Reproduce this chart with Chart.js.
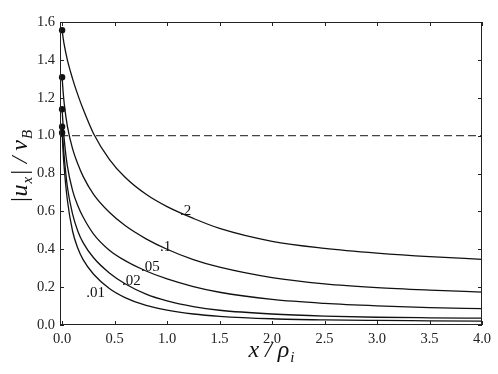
<!DOCTYPE html>
<html>
<head>
<meta charset="utf-8">
<script src="https://cdn.jsdelivr.net/npm/chart.js@4.4.0/dist/chart.umd.min.js"></script>
<style>
  html, body { margin: 0; padding: 0; background: #fff; }
  #wrap { width: 498px; height: 374px; }
</style>
</head>
<body>
<div id="wrap"><canvas id="chart" width="498" height="374"></canvas></div>
<script>
// x positions (x / rho_i) shared by every curve
const xs = [0, 0.01, 0.02, 0.05, 0.1, 0.15, 0.2, 0.3, 0.45, 0.6, 0.8, 1.0, 1.25, 1.5, 2.0, 2.5, 3.0, 3.5, 4.0];

// |u_x| / v_B
const curve20 = [1.557, 1.515, 1.48, 1.40, 1.30, 1.215, 1.14, 1.01, 0.875, 0.78, 0.69, 0.625, 0.563, 0.51, 0.442, 0.405, 0.38, 0.361, 0.347];
const curve10 = [1.308, 1.23, 1.17, 1.05, 0.93, 0.85, 0.785, 0.69, 0.595, 0.525, 0.455, 0.40, 0.345, 0.305, 0.25, 0.217, 0.197, 0.184, 0.174];
const curve05 = [1.139, 1.05, 0.98, 0.84, 0.71, 0.63, 0.57, 0.48, 0.395, 0.34, 0.285, 0.243, 0.203, 0.173, 0.135, 0.114, 0.101, 0.092, 0.086];
const curve02 = [1.047, 0.96, 0.89, 0.73, 0.585, 0.495, 0.435, 0.355, 0.275, 0.218, 0.163, 0.127, 0.097, 0.078, 0.058, 0.047, 0.041, 0.038, 0.036];
const curve01 = [1.015, 0.91, 0.83, 0.66, 0.495, 0.405, 0.345, 0.268, 0.193, 0.145, 0.103, 0.078, 0.058, 0.046, 0.033, 0.027, 0.024, 0.022, 0.020];

const curveNames = ['.2', '.1', '.05', '.02', '.01'];
const curveValues = [curve20, curve10, curve05, curve02, curve01];
// where each curve's name sits (data coords, left/baseline of the text)
const labelX = [1.124, 0.933, 0.752, 0.571, 0.229];
const labelY = [0.581, 0.391, 0.285, 0.211, 0.148];

const xTicks = [0, 0.5, 1.0, 1.5, 2.0, 2.5, 3.0, 3.5, 4.0];
const yTicks = [0, 0.2, 0.4, 0.6, 0.8, 1.0, 1.2, 1.4, 1.6];
const refLevel = 1.0;

const serif = '"Liberation Serif", "DejaVu Serif", serif';
const ink = '#111';

const datasets = curveValues.map((vals, i) => ({
    label: curveNames[i],
    data: xs.map((x, k) => ({x: x, y: vals[k]})),
    borderColor: ink,
    borderWidth: 1.3,
    fill: false,
    cubicInterpolationMode: 'monotone',
    pointRadius: (ctx) => ctx.dataIndex === 0 ? 3.2 : 0,
    pointBackgroundColor: ink,
    pointBorderWidth: 0,
    clip: false,
}));

// dashed reference line at 1.0
datasets.push({
    label: 'ref',
    data: [{x: -0.02, y: refLevel}, {x: 4.0, y: refLevel}],
    borderColor: '#444',
    borderWidth: 1.2,
    borderDash: [8, 4],
    pointRadius: 0,
    fill: false,
});

// frame, inward ticks, curve names, axis titles
const decorations = {
    id: 'decorations',
    afterDraw(chart) {
        const {ctx, chartArea: a, scales: {x, y}} = chart;
        ctx.save();
        ctx.strokeStyle = '#222';
        ctx.lineWidth = 1;
        ctx.strokeRect(a.left + 0.5, a.top + 0.5, a.right - a.left - 1, a.bottom - a.top - 1);

        const len = 4;
        ctx.beginPath();
        xTicks.forEach(v => {
            const px = Math.round(x.getPixelForValue(v)) + 0.5;
            ctx.moveTo(px, a.bottom); ctx.lineTo(px, a.bottom - len);
            ctx.moveTo(px, a.top); ctx.lineTo(px, a.top + len);
        });
        yTicks.forEach(v => {
            const py = Math.round(y.getPixelForValue(v)) + 0.5;
            ctx.moveTo(a.left, py); ctx.lineTo(a.left + len, py);
            ctx.moveTo(a.right, py); ctx.lineTo(a.right - len, py);
        });
        ctx.stroke();

        // curve names
        ctx.fillStyle = ink;
        ctx.font = '15px ' + serif;
        ctx.textAlign = 'left';
        ctx.textBaseline = 'alphabetic';
        curveNames.forEach((name, i) => {
            ctx.fillText(name, x.getPixelForValue(labelX[i]), y.getPixelForValue(labelY[i]));
        });

        // x title: x / rho_i
        const cx = (a.left + a.right) / 2;
        const big = 'italic 24px ' + serif;
        const small = 'italic 15px ' + serif;
        ctx.font = big;
        const w1 = ctx.measureText('x / ρ').width;
        ctx.font = small;
        const w2 = ctx.measureText('i').width;
        const sx = cx - (w1 + w2) / 2;
        const base = 357;
        ctx.font = big;
        ctx.fillText('x / ρ', sx, base);
        ctx.font = small;
        ctx.fillText('i', sx + w1 + 1, base + 5);

        // y title: |u_x| / v_B
        ctx.translate(27, 166);
        ctx.rotate(-Math.PI / 2);
        const parts = [['|u', big, 0], ['x', small, 5], ['| / v', big, 0], ['B', small, 5]];
        let total = 0;
        parts.forEach(p => { ctx.font = p[1]; total += ctx.measureText(p[0]).width + 1; });
        let px = -total / 2;
        parts.forEach(p => {
            ctx.font = p[1];
            ctx.fillText(p[0], px, p[2]);
            px += ctx.measureText(p[0]).width + 1;
        });
        ctx.restore();
    }
};

new Chart(document.getElementById('chart'), {
    type: 'line',
    data: {datasets: datasets},
    options: {
        responsive: false,
        devicePixelRatio: 1,
        animation: false,
        layout: {
            padding: {left: 0, top: 22, right: 16, bottom: 0},
        },
        scales: {
            x: {
                type: 'linear',
                min: -0.02,
                max: 4.0,
                afterFit: (scale) => { scale.height = 49; },
                afterBuildTicks: (scale) => { scale.ticks = xTicks.map(v => ({value: v})); },
                grid: {display: false, drawTicks: false},
                border: {display: false},
                ticks: {
                    padding: 5,
                    maxRotation: 0,
                    color: '#222',
                    font: {family: serif, size: 14.5},
                    callback: (value) => value.toFixed(1),
                },
            },
            y: {
                type: 'linear',
                min: 0,
                max: 1.6,
                afterFit: (scale) => { scale.width = 60; },
                afterBuildTicks: (scale) => { scale.ticks = yTicks.map(v => ({value: v})); },
                grid: {display: false, drawTicks: false},
                border: {display: false},
                ticks: {
                    padding: 5,
                    color: '#222',
                    font: {family: serif, size: 14.5},
                    callback: (value) => value.toFixed(1),
                },
            },
        },
        plugins: {
            legend: {display: false},
            tooltip: {enabled: false},
        },
    },
    plugins: [decorations],
});
</script>
</body>
</html>
